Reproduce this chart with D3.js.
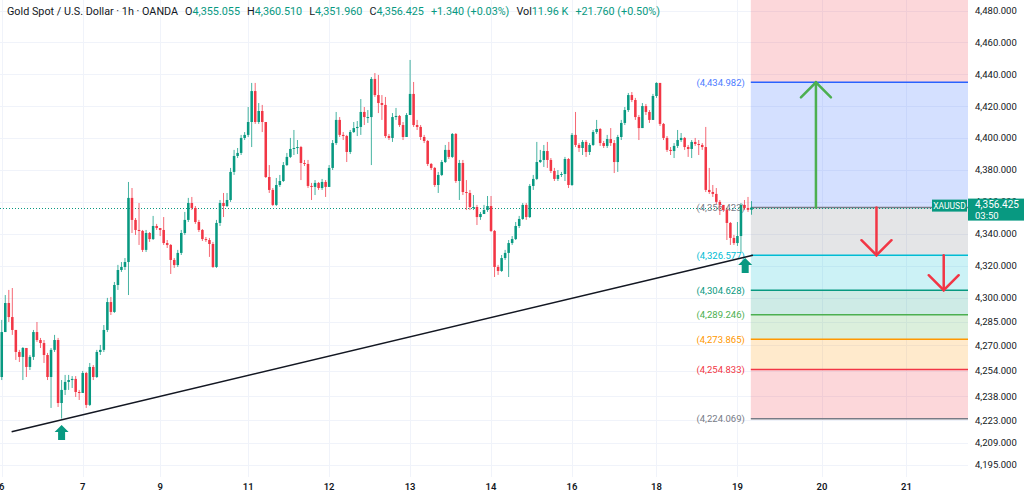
<!DOCTYPE html>
<html>
<head>
<meta charset="utf-8">
<script src="https://cdn.jsdelivr.net/npm/d3@7"></script>
<style>
  html, body { margin: 0; padding: 0; background: #fff; }
  svg { display: block; font-family: Roboto, "Noto Sans", sans-serif; }
</style>
</head>
<body>
<svg id="chart" width="1024" height="497"></svg>
<script>
"use strict";

// Hourly candles. Open of each bar = close of the one before.
const firstOpen = 4250.2;
const closes = [
  4278.4, 4296.6, 4287.8, 4279.7, 4265.9, 4262.8, 4268.4, 4256.5, 4262.8, 4278.4,
  4273.4, 4271.5, 4264.0, 4250.2, 4267.2, 4273.4, 4233.9, 4242.1, 4247.1, 4248.3,
  4249.0, 4240.8, 4240.2, 4252.7, 4232.7, 4256.5, 4250.2, 4265.9, 4267.2, 4279.7,
  4297.2, 4291.0, 4307.9, 4317.3, 4319.2, 4322.3, 4362.5, 4348.7, 4342.4, 4341.8,
  4329.9, 4340.5, 4336.7, 4344.9, 4343.6, 4342.4, 4334.2, 4333.0, 4323.6, 4320.4,
  4328.0, 4340.5, 4348.7, 4359.3, 4356.2, 4347.4, 4342.4, 4336.7, 4336.1, 4333.6,
  4319.2, 4346.8, 4359.3, 4357.4, 4361.2, 4378.8, 4388.8, 4390.7, 4400.1, 4402.0,
  4410.1, 4429.5, 4410.1, 4417.0, 4410.1, 4375.6, 4367.5, 4358.1, 4370.6, 4373.1,
  4383.1, 4388.2, 4393.2, 4393.8, 4394.4, 4384.4, 4383.8, 4370.0, 4369.4, 4371.9,
  4368.7, 4372.5, 4369.4, 4381.3, 4396.9, 4411.4, 4402.0, 4401.3, 4391.3, 4403.8,
  4406.3, 4407.0, 4416.4, 4413.2, 4413.2, 4437.1, 4427.0, 4422.0, 4420.8, 4401.3,
  4400.1, 4413.2, 4413.9, 4408.2, 4400.7, 4414.5, 4427.7, 4408.2, 4407.0, 4400.7,
  4398.2, 4383.8, 4381.3, 4370.6, 4376.9, 4385.0, 4392.6, 4388.2, 4402.6, 4373.1,
  4384.4, 4366.2, 4365.6, 4356.8, 4356.8, 4350.5, 4352.4, 4354.9, 4357.4, 4341.8,
  4319.2, 4316.7, 4324.8, 4328.0, 4334.2, 4336.7, 4344.9, 4349.3, 4358.1, 4350.5,
  4370.0, 4374.4, 4385.0, 4386.3, 4391.9, 4386.3, 4379.4, 4374.4, 4376.9, 4377.5,
  4386.9, 4370.6, 4402.0, 4395.7, 4393.8, 4397.6, 4391.3, 4395.7, 4403.8, 4405.7,
  4396.9, 4395.1, 4399.4, 4396.9, 4385.0, 4400.7, 4409.5, 4417.6, 4427.0, 4423.9,
  4413.2, 4406.3, 4420.1, 4416.4, 4411.4, 4426.4, 4434.6, 4408.9, 4400.1, 4392.6,
  4391.9, 4395.1, 4398.8, 4400.1, 4394.4, 4393.2, 4397.6, 4396.3, 4395.7, 4394.4,
  4367.5, 4366.2, 4365.0, 4360.0, 4358.1, 4354.9, 4346.8, 4337.4, 4334.2, 4338.6,
  4358.1, 4356.2, 4355.055, 4356.425
];
const highs = [
  4286.0, 4301.6, 4304.8, 4306.0, 4279.7, 4267.2, 4269.0, 4268.4, 4264.0, 4279.7,
  4284.7, 4274.7, 4273.4, 4265.3, 4268.4, 4276.6, 4274.7, 4248.3, 4251.5, 4251.5,
  4250.8, 4250.8, 4242.1, 4254.0, 4253.4, 4259.0, 4257.7, 4267.2, 4270.3, 4282.8,
  4299.8, 4300.4, 4309.8, 4320.5, 4322.3, 4324.8, 4372.5, 4368.7, 4349.9, 4359.3,
  4342.4, 4342.4, 4341.1, 4351.2, 4346.2, 4343.6, 4350.5, 4336.1, 4333.6, 4324.8,
  4329.9, 4342.4, 4353.7, 4362.5, 4363.1, 4357.4, 4348.7, 4343.0, 4338.0, 4337.4,
  4334.9, 4348.7, 4361.2, 4365.6, 4365.6, 4381.3, 4392.6, 4393.8, 4402.0, 4403.8,
  4419.5, 4434.6, 4434.6, 4422.0, 4420.8, 4410.1, 4383.1, 4368.7, 4375.0, 4376.9,
  4385.0, 4390.7, 4400.1, 4405.1, 4398.8, 4395.1, 4386.3, 4386.3, 4371.9, 4373.7,
  4372.5, 4374.4, 4373.7, 4383.1, 4398.8, 4416.4, 4413.2, 4403.8, 4402.0, 4405.1,
  4410.1, 4410.7, 4424.5, 4419.5, 4417.6, 4438.3, 4440.8, 4439.6, 4427.0, 4425.8,
  4402.6, 4415.7, 4418.9, 4414.5, 4410.1, 4415.7, 4449.0, 4435.2, 4411.4, 4408.2,
  4402.0, 4398.8, 4384.4, 4381.9, 4378.8, 4386.3, 4395.7, 4397.6, 4403.2, 4403.2,
  4386.3, 4386.3, 4373.7, 4367.5, 4364.3, 4358.1, 4353.7, 4358.1, 4363.7, 4363.7,
  4342.4, 4320.5, 4326.7, 4329.9, 4336.1, 4338.6, 4347.4, 4351.2, 4359.3, 4359.3,
  4371.2, 4376.9, 4397.6, 4392.6, 4395.7, 4397.6, 4387.5, 4381.3, 4380.0, 4378.8,
  4388.2, 4387.5, 4403.2, 4416.4, 4396.9, 4398.8, 4398.8, 4396.9, 4405.1, 4411.4,
  4406.3, 4398.2, 4402.0, 4406.3, 4398.8, 4402.0, 4411.4, 4419.5, 4428.3, 4428.9,
  4425.2, 4414.5, 4422.0, 4421.4, 4417.6, 4427.7, 4435.0, 4434.0, 4409.5, 4401.3,
  4394.4, 4396.9, 4405.1, 4403.2, 4400.7, 4395.7, 4398.8, 4400.1, 4398.8, 4396.9,
  4407.0, 4381.3, 4370.6, 4368.7, 4361.2, 4358.1, 4356.2, 4347.4, 4339.3, 4347.4,
  4359.3, 4361.2, 4363.1, 4360.510
];
const lows = [
  4248.3, 4286.0, 4284.7, 4276.6, 4260.9, 4259.6, 4248.3, 4250.2, 4254.6, 4260.9,
  4272.2, 4268.4, 4259.0, 4248.3, 4230.8, 4265.9, 4231.4, 4224.1, 4238.9, 4242.1,
  4243.3, 4237.7, 4235.8, 4240.8, 4230.8, 4232.0, 4248.3, 4249.6, 4264.0, 4265.9,
  4278.4, 4289.1, 4290.4, 4304.8, 4316.1, 4317.3, 4301.6, 4340.5, 4339.3, 4333.0,
  4328.6, 4328.6, 4334.9, 4336.1, 4342.4, 4338.6, 4333.0, 4331.1, 4314.8, 4318.6,
  4319.2, 4326.7, 4339.3, 4347.4, 4354.9, 4346.2, 4341.1, 4335.5, 4334.9, 4325.5,
  4318.6, 4318.6, 4344.9, 4350.5, 4356.8, 4360.0, 4376.9, 4387.5, 4389.4, 4398.8,
  4400.7, 4394.4, 4408.9, 4408.9, 4403.8, 4375.0, 4365.6, 4357.4, 4357.4, 4369.4,
  4372.5, 4382.5, 4387.5, 4389.4, 4390.0, 4373.7, 4382.5, 4368.7, 4361.2, 4364.3,
  4367.5, 4367.5, 4363.1, 4370.6, 4380.0, 4395.7, 4400.7, 4398.8, 4385.0, 4390.0,
  4403.2, 4401.3, 4402.0, 4408.2, 4409.5, 4383.1, 4425.8, 4415.7, 4411.4, 4400.1,
  4398.8, 4397.6, 4411.4, 4407.0, 4398.8, 4402.0, 4414.5, 4407.0, 4405.1, 4398.8,
  4396.9, 4382.5, 4380.0, 4369.4, 4365.6, 4376.2, 4384.4, 4386.9, 4387.5, 4371.9,
  4361.2, 4364.3, 4354.9, 4354.9, 4354.9, 4345.5, 4348.7, 4352.4, 4353.7, 4341.1,
  4312.9, 4314.2, 4316.1, 4323.6, 4312.9, 4333.0, 4336.1, 4343.6, 4348.7, 4348.7,
  4349.9, 4367.5, 4373.7, 4384.4, 4381.9, 4381.3, 4378.1, 4373.1, 4373.1, 4375.6,
  4373.1, 4368.7, 4370.0, 4394.4, 4391.3, 4389.4, 4388.2, 4389.4, 4395.1, 4402.6,
  4395.1, 4393.8, 4393.8, 4395.1, 4378.1, 4378.8, 4398.8, 4408.2, 4416.4, 4422.6,
  4411.4, 4398.8, 4406.3, 4414.5, 4409.5, 4411.4, 4425.2, 4407.6, 4398.8, 4391.3,
  4389.4, 4387.5, 4393.8, 4397.6, 4392.6, 4388.2, 4387.5, 4395.1, 4389.4, 4392.6,
  4366.2, 4365.0, 4363.1, 4358.7, 4351.8, 4353.7, 4336.1, 4333.0, 4333.0, 4332.4,
  4328.6, 4354.9, 4353.7, 4351.960
];

// Time axis: bar index where each day label sits
const dayLabels = ["6", "7", "9", "11", "12", "13", "14", "16", "18", "19", "20", "21"];
const dayBars   = [0, 23, 45, 70, 93, 116, 139, 162, 186, 209, 233, 257];

// Price axis tick values
const priceTicks = [4480, 4460, 4440, 4420, 4400, 4380, 4360, 4340, 4320, 4300,
                    4285, 4270, 4254, 4238, 4223, 4209, 4195];

// Fibonacci-style projection drawn to the right of the last bar
const fibLevels = [4434.982, 4356.423, 4326.577, 4304.628, 4289.246, 4273.865, 4254.833, 4224.069];
const fibColors = ["#2962ff", "#787b86", "#00bcd4", "#089981", "#4caf50", "#ff9800", "#f23645", "#787b86"];
const fibStartBar = 212.8;

// Trend line [bar, price] and arrow markers below the swing lows
const trendLine = [[2.8, 4215.9], [213.4, 4326.6]];
const upMarkers = [[17, 4220.1], [211.2, 4324.8]];

// Projection arrows: [bar, fromPrice, toPrice, colour]
const projArrows = [
  [231.3, 4356.423, 4434.982, "#4caf50"],
  [248.5, 4356.423, 4326.577, "#f23645"],
  [267.6, 4326.577, 4304.628, "#f23645"]
];

const last = { price: 4356.425, countdown: "03:50", symbol: "XAUUSD" };

const header = [
  ["Gold Spot / U.S. Dollar · 1h · OANDA", "#131722", 0],
  ["O", "#131722", 7], ["4,355.055", "#089981", 0],
  ["H", "#131722", 7], ["4,360.510", "#089981", 0],
  ["L", "#131722", 7], ["4,351.960", "#089981", 0],
  ["C", "#131722", 7], ["4,356.425", "#089981", 0],
  ["+1.340 (+0.03%)", "#089981", 7],
  ["Vol", "#131722", 7], ["11.96 K", "#089981", 0],
  ["+21.760 (+0.50%)", "#089981", 7]
];

const UP = "#089981", DOWN = "#f23645";
const plotW = 968, plotH = 477;

const svg = d3.select("#chart");

const x = d3.scaleLinear().domain([-0.5, 274.5]).range([0, plotW]);
const y = d3.scaleLinear().domain([4187.5, 4486.6]).range([plotH, 0]);

let candles = closes.map((c, i) => {
  let o = i === 0 ? firstOpen : closes[i - 1];
  return {
    i: i, o: o, c: c,
    h: Math.max(highs[i], o, c),
    l: Math.min(lows[i], o, c)
  };
});

// Grid
let grid = svg.append("g").attr("stroke", "#f0f3fa").attr("stroke-width", 1);
grid.selectAll("line.h")
    .data(priceTicks)
    .enter()
    .append("line")
    .attr("x1", 0).attr("x2", plotW)
    .attr("y1", d => Math.round(y(d)) + 0.5)
    .attr("y2", d => Math.round(y(d)) + 0.5);
grid.selectAll("line.v")
    .data(dayBars)
    .enter()
    .append("line")
    .attr("y1", 0).attr("y2", plotH)
    .attr("x1", d => Math.round(x(d)) + 0.5)
    .attr("x2", d => Math.round(x(d)) + 0.5);

// Fib bands: top band in red, then each level down to the next one in its own colour
let fibX0 = x(fibStartBar), fibX1 = plotW;
let bands = [{ top: y.domain()[1], bottom: fibLevels[0], color: DOWN }];
for (let k = 0; k < fibLevels.length - 1; k++) {
  bands.push({ top: fibLevels[k], bottom: fibLevels[k + 1], color: fibColors[k] });
}
svg.append("g")
   .selectAll("rect")
   .data(bands)
   .enter()
   .append("rect")
   .attr("x", fibX0)
   .attr("width", fibX1 - fibX0)
   .attr("y", d => y(d.top))
   .attr("height", d => y(d.bottom) - y(d.top))
   .attr("fill", d => d.color)
   .attr("fill-opacity", 0.2);

svg.append("g")
   .selectAll("line")
   .data(fibLevels)
   .enter()
   .append("line")
   .attr("x1", fibX0).attr("x2", fibX1)
   .attr("y1", d => y(d)).attr("y2", d => y(d))
   .attr("stroke", (d, k) => fibColors[k])
   .attr("stroke-width", 1.5);

const fmt = d3.format(",.3f");
svg.append("g")
   .selectAll("text")
   .data(fibLevels)
   .enter()
   .append("text")
   .attr("x", fibX0 - 6)
   .attr("y", d => y(d))
   .attr("dy", "0.35em")
   .attr("text-anchor", "end")
   .attr("font-size", 9.5)
   .attr("fill", (d, k) => k === 0 ? "#4d7cff" : fibColors[k])
   .text(d => `(${fmt(d)})`);

// Last price dotted line
svg.append("line")
   .attr("x1", 0).attr("x2", plotW)
   .attr("y1", Math.round(y(last.price)) + 0.5)
   .attr("y2", Math.round(y(last.price)) + 0.5)
   .attr("stroke", UP)
   .attr("stroke-width", 1)
   .attr("stroke-dasharray", "1,2");

// Candles
let bodyW = (x(1) - x(0)) * 0.72;
let cg = svg.append("g")
            .selectAll("g")
            .data(candles)
            .enter()
            .append("g")
            .attr("fill", d => d.c >= d.o ? UP : DOWN)
            .attr("stroke", d => d.c >= d.o ? UP : DOWN);
cg.append("line")  // Wick
  .attr("x1", d => x(d.i)).attr("x2", d => x(d.i))
  .attr("y1", d => y(d.h)).attr("y2", d => y(d.l))
  .attr("stroke-width", 1)
  .attr("stroke-opacity", 0.75);
cg.append("rect")  // Body
  .attr("x", d => x(d.i) - bodyW / 2)
  .attr("width", bodyW)
  .attr("y", d => y(Math.max(d.o, d.c)))
  .attr("height", d => Math.max(1, Math.abs(y(d.o) - y(d.c))))
  .attr("stroke", "none");

// Trend line
svg.append("line")
   .attr("x1", x(trendLine[0][0])).attr("y1", y(trendLine[0][1]))
   .attr("x2", x(trendLine[1][0])).attr("y2", y(trendLine[1][1]))
   .attr("stroke", "#131722")
   .attr("stroke-width", 1.6);

// Projection arrows
let ag = svg.append("g")
            .selectAll("g")
            .data(projArrows)
            .enter()
            .append("g")
            .attr("stroke", d => d[3])
            .attr("fill", "none")
            .attr("stroke-width", 2.5)
            .attr("stroke-linecap", "round");
ag.append("line")
  .attr("x1", d => x(d[0])).attr("x2", d => x(d[0]))
  .attr("y1", d => y(d[1])).attr("y2", d => y(d[2]));
ag.append("path")
  .attr("d", d => {
    let tx = x(d[0]), ty = y(d[2]);
    let dir = d[2] > d[1] ? 1 : -1;  // 1 = pointing up
    return `M${tx - 15},${ty + dir * 15} L${tx},${ty} L${tx + 15},${ty + dir * 15}`;
  });

// Up arrow markers
svg.append("g")
   .selectAll("path")
   .data(upMarkers)
   .enter()
   .append("path")
   .attr("transform", d => `translate(${x(d[0])},${y(d[1])})`)
   .attr("d", "M0,0 L7,7 L3.5,7 L3.5,15 L-3.5,15 L-3.5,7 L-7,7 Z")
   .attr("fill", UP);

// Price axis labels (the one under the last-price box stays partly hidden, as in TradingView)
svg.append("g")
   .selectAll("text")
   .data(priceTicks)
   .enter()
   .append("text")
   .attr("x", 975)
   .attr("y", d => y(d))
   .attr("dy", "0.35em")
   .attr("font-size", 9.5)
   .attr("fill", "#131722")
   .text(d => fmt(d));

// Time axis labels
svg.append("g")
   .selectAll("text")
   .data(dayBars)
   .enter()
   .append("text")
   .attr("x", d => x(d))
   .attr("y", 490)
   .attr("text-anchor", "middle")
   .attr("font-size", 9.5)
   .attr("font-weight", 600)
   .attr("fill", "#131722")
   .text((d, k) => dayLabels[k]);

// Last price label on the axis
let ly = y(last.price);
svg.append("rect")
   .attr("x", plotW).attr("y", ly - 9)
   .attr("width", 1024 - plotW).attr("height", 22)
   .attr("fill", UP);
svg.append("text")
   .attr("x", 975).attr("y", ly - 3)
   .attr("dy", "0.35em")
   .attr("font-size", 10)
   .attr("fill", "#fff")
   .text(fmt(last.price));
svg.append("text")
   .attr("x", 975).attr("y", ly + 8)
   .attr("dy", "0.35em")
   .attr("font-size", 9.5)
   .attr("fill", "#fff")
   .text(last.countdown);
svg.append("rect")
   .attr("x", 932).attr("y", ly - 8)
   .attr("width", 35).attr("height", 12)
   .attr("fill", UP);
svg.append("text")
   .attr("x", 949.5).attr("y", ly - 2)
   .attr("dy", "0.35em")
   .attr("text-anchor", "middle")
   .attr("font-size", 8.5)
   .attr("fill", "#fff")
   .text(last.symbol);

// Header line
let ht = svg.append("text")
            .attr("x", 7).attr("y", 15)
            .attr("font-size", 10.8);
ht.selectAll("tspan")
  .data(header)
  .enter()
  .append("tspan")
  .attr("dx", d => d[2])
  .attr("fill", d => d[1])
  .text(d => d[0]);
</script>
</body>
</html>
